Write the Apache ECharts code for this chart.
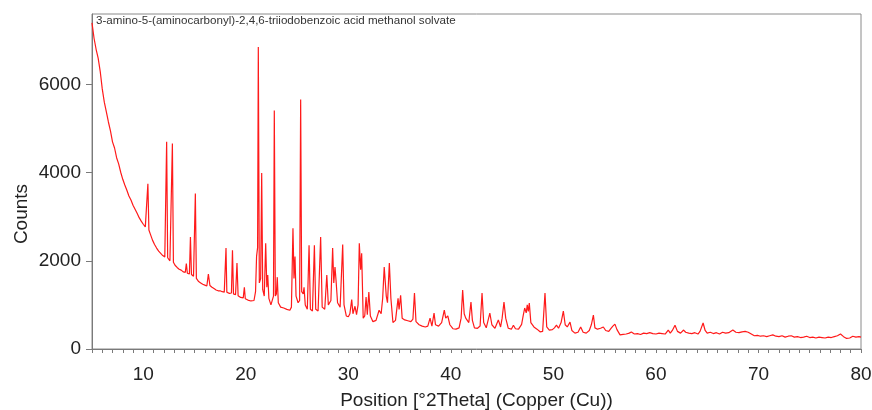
<!DOCTYPE html>
<html>
<head>
<meta charset="utf-8">
<script src="https://cdn.jsdelivr.net/npm/echarts@6/dist/echarts.min.js"></script>
<style>
    html, body { margin: 0; padding: 0; background: #fff; }
    #chart { width: 872px; height: 410px; }
</style>
</head>
<body>
<div id="chart"></div>
<script>
// pattern, [2theta, counts]
const lowAngle = [
    [5.0, 7400], [5.2, 7050], [5.4, 6800], [5.6, 6600], [5.8, 6300], [6.0, 5900], [6.2, 5600],
    [6.4, 5380], [6.6, 5150], [6.8, 4950], [7.0, 4700], [7.2, 4560], [7.4, 4340], [7.6, 4200],
    [7.8, 4010], [8.0, 3850], [8.2, 3720], [8.4, 3600], [8.6, 3470], [8.8, 3380], [9.0, 3260],
    [9.2, 3170], [9.4, 3080], [9.6, 2980], [9.8, 2900], [10.0, 2830], [10.2, 2770], [10.35, 2730],
    [10.45, 3750], [10.55, 2700], [10.7, 2600], [10.9, 2470], [11.1, 2370], [11.3, 2290], [11.5, 2220],
    [11.7, 2170], [11.9, 2120], [12.1, 2090], [12.2, 2080], [12.28, 4700], [12.38, 2070], [12.6, 2000],
    [12.75, 1990], [12.84, 4660], [12.94, 1970], [13.1, 1900], [13.3, 1850], [13.5, 1810], [13.7, 1790],
    [13.9, 1750], [14.1, 1740], [14.2, 1940], [14.3, 1720], [14.5, 1700], [14.6, 2540], [14.7, 1690],
    [14.9, 1650], [15.0, 1640], [15.08, 3530], [15.18, 1600], [15.4, 1530], [15.6, 1500], [15.8, 1470],
    [16.0, 1450], [16.2, 1430], [16.35, 1700], [16.5, 1440], [16.7, 1400], [16.9, 1370], [17.1, 1340],
    [17.3, 1320], [17.5, 1320], [17.7, 1300], [17.9, 1290], [18.0, 1300], [18.07, 2290], [18.15, 1290],
    [18.4, 1260], [18.6, 1270], [18.7, 2240], [18.8, 1250], [19.0, 1230], [19.14, 1950], [19.25, 1210],
    [19.5, 1170], [19.75, 1160], [19.86, 1400], [19.95, 1140], [20.2, 1110], [20.5, 1090], [20.8, 1100]
];
const midAngle = [
    [20.95, 1300], [21.05, 2100], [21.15, 2300], [21.22, 6850], [21.32, 1500], [21.45, 1600],
    [21.55, 3990], [21.65, 1350], [21.8, 1200], [21.94, 2400], [22.05, 1400], [22.14, 1680],
    [22.25, 1150], [22.45, 1000], [22.6, 1000], [22.7, 1200], [22.78, 5410], [22.88, 1200],
    [22.98, 1250], [23.07, 1630], [23.17, 1050], [23.4, 950], [23.7, 930], [24.0, 900], [24.3, 880],
    [24.45, 950], [24.6, 2740], [24.7, 1600], [24.8, 2100], [24.9, 1200], [25.1, 1050], [25.25, 1100],
    [25.35, 5660], [25.45, 1300], [25.6, 1250], [25.68, 1400], [25.8, 1000], [26.0, 900], [26.17, 2355],
    [26.3, 900], [26.5, 860], [26.69, 2355], [26.82, 900], [27.05, 860], [27.3, 2540], [27.45, 950],
    [27.7, 900], [27.9, 1680], [28.05, 1000], [28.3, 1100], [28.47, 2290], [28.58, 1500], [28.7, 1860],
    [28.8, 1560], [28.95, 1050], [29.2, 950], [29.45, 2370], [29.58, 1000], [29.8, 750], [30.0, 730],
    [30.15, 800], [30.33, 1120], [30.45, 800], [30.65, 970], [30.8, 780], [30.95, 1000], [31.07, 2400],
    [31.2, 1800], [31.3, 2170], [31.45, 700], [31.6, 750], [31.73, 1180], [31.85, 780], [32.0, 1290],
    [32.15, 750], [32.4, 620], [32.7, 650], [33.0, 880], [33.2, 800], [33.35, 1150], [33.5, 1860],
    [33.7, 1200], [33.82, 1050], [34.0, 1950], [34.15, 1150], [34.35, 600], [34.6, 650], [34.85, 1150],
    [34.95, 900], [35.1, 1220], [35.25, 700], [35.5, 660], [35.8, 640], [36.1, 620], [36.3, 680],
    [36.45, 1270], [36.6, 620], [36.9, 550], [37.2, 520], [37.5, 500], [37.75, 520], [37.97, 700],
    [38.15, 520], [38.36, 815], [38.5, 550], [38.8, 520], [39.1, 600], [39.36, 880], [39.5, 700],
    [39.7, 750], [39.9, 550], [40.2, 460], [40.5, 450], [40.8, 480], [41.0, 700], [41.15, 1340],
    [41.3, 800], [41.45, 700], [41.6, 655], [41.75, 600], [41.96, 1065], [42.1, 650], [42.3, 480],
    [42.6, 470], [42.85, 520], [43.04, 1270], [43.2, 600], [43.45, 480], [43.8, 815], [44.0, 550],
    [44.3, 470], [44.63, 660], [44.85, 500], [45.0, 700], [45.18, 1065], [45.35, 700], [45.6, 470],
    [45.9, 450], [46.1, 540], [46.3, 460], [46.6, 450], [46.9, 560], [47.05, 750], [47.2, 930],
    [47.35, 820], [47.45, 1000], [47.55, 850], [47.65, 1040], [47.8, 600], [48.1, 500], [48.4, 450],
    [48.7, 390], [48.95, 400], [49.18, 1270], [49.35, 500], [49.6, 430], [49.9, 440], [50.1, 480]
];
const highAngle = [
    [50.3, 540], [50.5, 470], [50.75, 600], [50.97, 860], [51.15, 550], [51.35, 500], [51.62, 610],
    [51.8, 420], [52.1, 360], [52.4, 380], [52.66, 500], [52.9, 380], [53.2, 360], [53.5, 420],
    [53.7, 550], [53.9, 770], [54.05, 480], [54.3, 450], [54.6, 470], [54.87, 500], [55.1, 420],
    [55.4, 400], [55.6, 460], [55.8, 520], [56.0, 565], [56.2, 440], [56.5, 320], [56.8, 330],
    [57.1, 340], [57.4, 360], [57.6, 385], [57.9, 340], [58.2, 350], [58.5, 330], [58.8, 360],
    [59.1, 350], [59.4, 370], [59.7, 350], [60.0, 340], [60.3, 360], [60.6, 350], [60.9, 340],
    [61.2, 430], [61.4, 360], [61.6, 420], [61.86, 540], [62.1, 400], [62.4, 360], [62.7, 430],
    [62.9, 380], [63.2, 360], [63.5, 350], [63.8, 370], [64.1, 340], [64.3, 400], [64.6, 590],
    [64.8, 420], [65.0, 360], [65.3, 380], [65.6, 350], [65.9, 370], [66.2, 340], [66.5, 380],
    [66.8, 360], [67.1, 370], [67.5, 430], [67.8, 380], [68.1, 370], [68.4, 390], [68.7, 400],
    [69.0, 380], [69.3, 340], [69.6, 300], [69.9, 310], [70.2, 290], [70.5, 300], [70.8, 280],
    [71.1, 300], [71.4, 320], [71.7, 290], [72.0, 280], [72.3, 300], [72.6, 270], [72.9, 290],
    [73.2, 300], [73.5, 270], [73.8, 280], [74.1, 260], [74.4, 270], [74.7, 290], [75.0, 260],
    [75.3, 270], [75.6, 250], [75.9, 270], [76.2, 260], [76.5, 250], [76.8, 270], [77.1, 260],
    [77.4, 280], [77.7, 300], [78.0, 340], [78.3, 280], [78.6, 240], [78.9, 250], [79.2, 290],
    [79.5, 270], [79.8, 280], [80.0, 270]
];

const xLabelValues = [10, 20, 30, 40, 50, 60, 70, 80];
const xTickValues = [5, 6, 7, 8, 9, 10, 11, 12, 13, 14, 15, 16, 17, 18, 19, 20, 21, 22, 23, 24, 25,
    26, 27, 28, 29, 30, 31, 32, 33, 34, 35, 36, 37, 38, 39, 40, 41, 42, 43, 44, 45, 46, 47, 48, 49, 50,
    51, 52, 53, 54, 55, 56, 57, 58, 59, 60, 61, 62, 63, 64, 65, 66, 67, 68, 69, 70, 71, 72, 73, 74, 75,
    76, 77, 78, 79, 80];
const yLabelValues = [0, 2000, 4000, 6000];

const FONT = '"Liberation Sans", Arial, sans-serif';
const AXIS_COLOR = '#7a7a7a';

const chart = echarts.init(document.getElementById('chart'));
chart.setOption({
    animation: false,
    textStyle: { fontFamily: FONT },
    title: {
        text: '3-amino-5-(aminocarbonyl)-2,4,6-triiodobenzoic acid methanol solvate',
        left: 96,
        top: 15,
        padding: 0,
        textStyle: {
            fontSize: 11.6,
            fontWeight: 'normal',
            color: '#333',
            fontFamily: FONT
        }
    },
    grid: {
        left: 92,
        right: 11,
        top: 14,
        bottom: 61,
        outerBoundsMode: 'none',
        containLabel: false,
        show: true,
        borderColor: '#8a8a8a',
        borderWidth: 1
    },
    xAxis: {
        type: 'value',
        min: 5,
        max: 80,
        name: 'Position [°2Theta] (Copper (Cu))',
        nameLocation: 'middle',
        nameGap: 42,
        nameTextStyle: { fontSize: 19, color: '#222', fontFamily: FONT },
        axisLine: { lineStyle: { color: AXIS_COLOR } },
        axisTick: {
            customValues: xTickValues,
            length: 4,
            lineStyle: { color: AXIS_COLOR }
        },
        axisLabel: {
            customValues: xLabelValues,
            fontSize: 19,
            color: '#222',
            margin: 16,
            formatter: v => String(v)
        },
        splitLine: { show: false }
    },
    yAxis: {
        type: 'value',
        min: 0,
        max: 7600,
        axisLine: { show: true, lineStyle: { color: AXIS_COLOR } },
        axisTick: {
            show: true,
            customValues: yLabelValues,
            length: 6,
            lineStyle: { color: AXIS_COLOR }
        },
        axisLabel: {
            customValues: yLabelValues,
            fontSize: 19,
            color: '#222',
            margin: 11,
            formatter: v => String(v)
        },
        splitLine: { show: false }
    },
    graphic: [{
        type: 'text',
        x: 22,
        y: 214,
        rotation: Math.PI / 2,
        style: {
            text: 'Counts',
            fontSize: 19,
            fontFamily: FONT,
            fill: '#222',
            align: 'center',
            verticalAlign: 'middle'
        }
    }],
    series: [{
        type: 'line',
        data: lowAngle.concat(midAngle, highAngle),
        showSymbol: false,
        lineStyle: { color: '#ff1a1a', width: 1.2 },
        z: 1
    }]
});
</script>
</body>
</html>
